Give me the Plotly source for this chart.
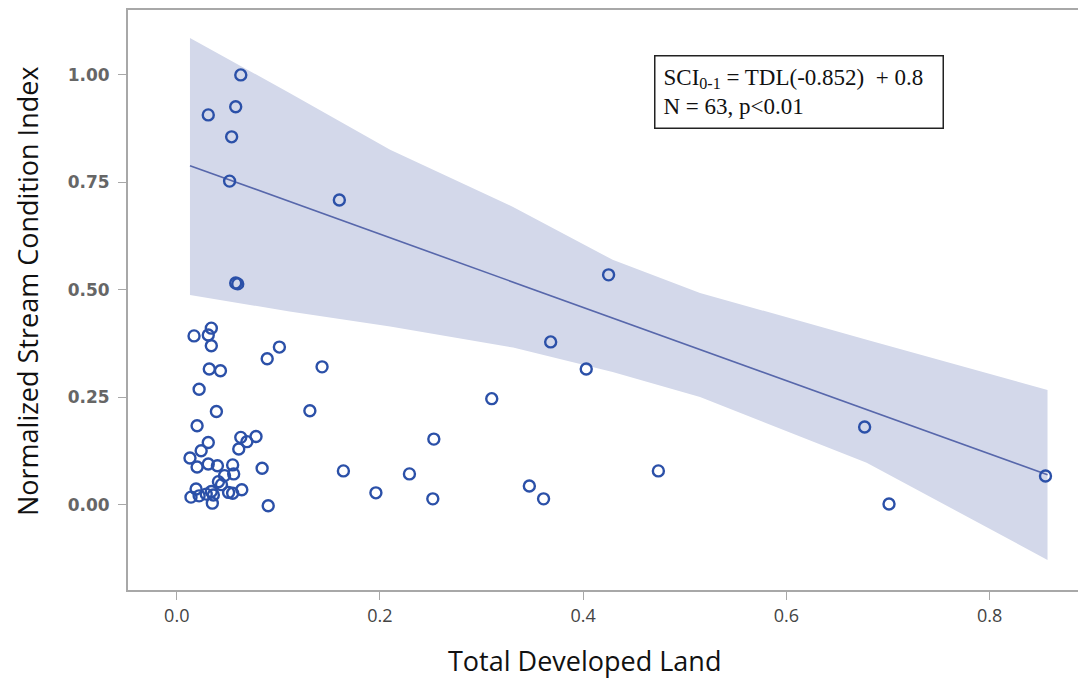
import plotly.graph_objects as go

# ---- data ----
tdl = [0.063, 0.058, 0.031, 0.054, 0.052, 0.058, 0.060, 0.160,
       0.425, 0.368, 0.403, 0.310, 0.677, 0.855, 0.701, 0.474, 0.347, 0.361,
       0.253, 0.229, 0.252, 0.196, 0.164, 0.143, 0.131,
       0.017, 0.034, 0.031, 0.034, 0.032, 0.043, 0.101, 0.089, 0.022, 0.039,
       0.020, 0.031, 0.024, 0.063, 0.069, 0.078, 0.061, 0.013, 0.020, 0.031,
       0.040, 0.055, 0.084, 0.056, 0.047, 0.041, 0.044, 0.019, 0.014, 0.022,
       0.034, 0.036, 0.051, 0.055, 0.064, 0.035, 0.090, 0.029]
sci = [1.000, 0.926, 0.907, 0.856, 0.753, 0.516, 0.514, 0.709,
       0.535, 0.379, 0.316, 0.247, 0.181, 0.067, 0.002, 0.079, 0.044, 0.014,
       0.153, 0.072, 0.014, 0.028, 0.079, 0.321, 0.219,
       0.393, 0.411, 0.395, 0.370, 0.316, 0.312, 0.367, 0.340, 0.269, 0.217,
       0.184, 0.145, 0.126, 0.157, 0.147, 0.159, 0.130, 0.109, 0.088, 0.095,
       0.091, 0.093, 0.085, 0.072, 0.068, 0.054, 0.047, 0.037, 0.018, 0.021,
       0.031, 0.023, 0.029, 0.027, 0.035, 0.004, -0.002, 0.025]

fit_x = [0.013, 0.857]
fit_y = [0.789, 0.070]

band_x = [0.013, 0.111, 0.21, 0.331, 0.429, 0.515, 0.679, 0.857]
band_upper = [1.086, 0.958, 0.826, 0.693, 0.570, 0.493, 0.384, 0.267]
band_lower = [0.488, 0.450, 0.415, 0.366, 0.309, 0.251, 0.098, -0.128]

x_ticks = [0.0, 0.2, 0.4, 0.6, 0.8]
x_tick_text = ["0.0", "0.2", "0.4", "0.6", "0.8"]
y_ticks = [0.0, 0.25, 0.5, 0.75, 1.0]
y_tick_text = ["0.00", "0.25", "0.50", "0.75", "1.00"]

x_title = "Total Developed Land"
y_title = "Normalized Stream Condition Index"

fig = go.Figure()

fig.add_trace(go.Scatter(
    x=band_x + band_x[::-1],
    y=band_upper + band_lower[::-1],
    fill="toself", fillcolor="#d3d8ea", line=dict(width=0),
    mode="lines", hoverinfo="skip", showlegend=False))

fig.add_trace(go.Scatter(
    x=fit_x, y=fit_y, mode="lines",
    line=dict(color="#5767ab", width=1.6), showlegend=False))

fig.add_trace(go.Scatter(
    x=tdl, y=sci, mode="markers",
    marker=dict(symbol="circle-open", size=11, color="#2b50a8",
                line=dict(width=2.4, color="#2b50a8")),
    showlegend=False))

fig.add_annotation(
    x=0.470, y=1.047, xref="x", yref="y", xanchor="left", yanchor="top",
    text="SCI<sub>0-1</sub> = TDL(-0.852)  + 0.8&nbsp;&nbsp;<br>N = 63, p&lt;0.01",
    showarrow=False, align="left",
    font=dict(family="Liberation Serif", size=23, color="#111111"),
    bordercolor="#222222", borderwidth=1.5, borderpad=8, bgcolor="white")

# axis titles placed as annotations to match the reference positions
fig.add_annotation(
    x=0.481, y=-0.1224, xref="paper", yref="paper",
    xanchor="center", yanchor="middle", showarrow=False, text=x_title,
    font=dict(family="Open Sans", size=27, color="#111111"))
fig.add_annotation(
    x=-0.1063, y=0.5155, xref="paper", yref="paper", textangle=-90,
    xanchor="center", yanchor="middle", showarrow=False, text=y_title,
    font=dict(family="Open Sans", size=27, color="#111111"))

fig.update_layout(
    width=1070, height=671,
    margin=dict(l=120, r=0, t=2, b=89),
    plot_bgcolor="white", paper_bgcolor="white",
    xaxis=dict(range=[-0.048, 0.887], tickvals=x_ticks, ticktext=x_tick_text,
               showgrid=False, zeroline=False, showline=True, mirror=True,
               linecolor="#a8a8a8", linewidth=2, ticks="outside", ticklen=8,
               tickcolor="#a8a8a8",
               tickfont=dict(family="Open Sans", size=18, color="#444444")),
    yaxis=dict(range=[-0.198, 1.151], tickvals=y_ticks, ticktext=y_tick_text,
               showgrid=False, zeroline=False, showline=True, mirror=False,
               linecolor="#a8a8a8", linewidth=2, ticks="outside", ticklen=8,
               tickcolor="#a8a8a8", ticklabelstandoff=5,
               tickfont=dict(family="DejaVu Sans", size=17, color="#666666",
                             weight="bold")),
)

fig.write_html("out.html")
